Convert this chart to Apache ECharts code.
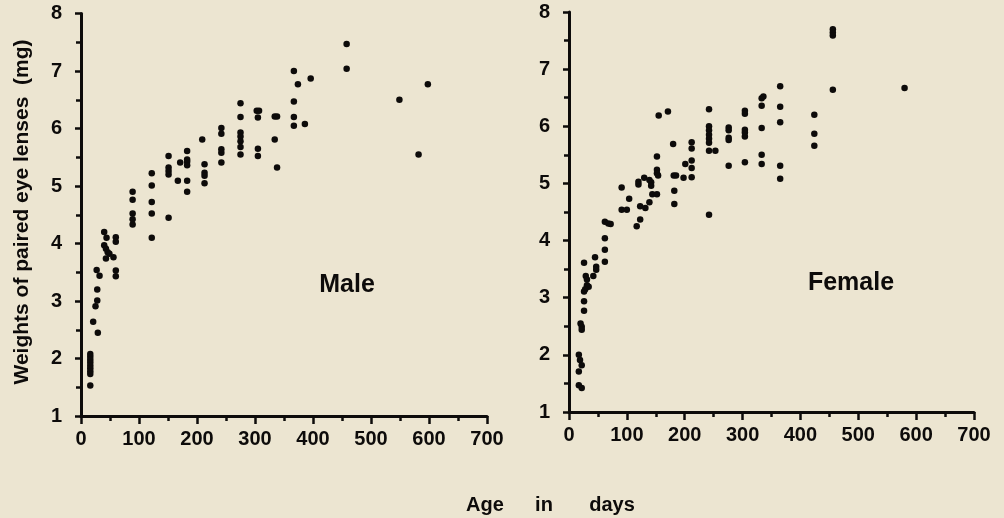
<!DOCTYPE html>
<html lang="en">
<head>
  <meta charset="UTF-8">
  <title>Eye lens weights</title>
  <script src="https://cdn.jsdelivr.net/npm/echarts@6/dist/echarts.min.js"></script>
  <style>
    html, body { margin: 0; padding: 0; background: #ece5d1; }
    #chart { width: 1004px; height: 518px; }
  </style>
</head>
<body>
  <div id="chart"></div>
  <script>
    // values: age (days) and weight (mg)
    var maleAge = [16,16,16,16,16,16,16,16,16,
      21,29,25,28,28,27,32,
      40,44,40,43,46,49,43,
      60,60,60,60,56,
      89,89,89,89,89,
      122,122,122,122,122,
      151,151,151,151,151,
      167,171,
      183,183,183,183,183,183,
      209,213,213,213,213,
      242,242,242,242,242,
      275,275,275,275,275,275,275,
      303,307,305,305,305,
      334,338,334,338,
      367,367,367,367,
      374,386,396,
      458,458,
      549,582,598];
    var maleWeight = [2.08,2.03,1.98,1.93,1.88,1.83,1.78,1.73,1.53,
      2.64,2.45,2.91,3.01,3.20,3.54,3.44,
      4.20,4.10,3.97,3.91,3.85,3.82,3.74,
      4.11,4.03,3.53,3.43,3.76,
      4.90,4.76,4.52,4.42,4.33,
      5.22,5.01,4.72,4.52,4.10,
      5.52,5.32,5.26,5.20,4.45,
      5.09,5.41,
      5.61,5.46,5.42,5.36,5.09,4.90,
      5.81,5.38,5.23,5.18,5.05,
      6.01,5.91,5.64,5.58,5.41,
      6.44,6.20,5.93,5.86,5.78,5.68,5.55,
      6.31,6.31,6.19,5.65,5.52,
      6.21,6.21,5.81,5.32,
      7.00,6.47,6.20,6.05,
      6.77,6.08,6.87,
      7.47,7.04,
      6.50,5.55,6.77];

    var femaleAge = [17,17,17,19,22,22,20,22,22,
      26,26,26,26,29,31,31,34,28,
      42,45,47,47,
      62,62,62,62,68,72,
      91,91,100,104,
      117,120,120,123,123,
      130,132,139,139,142,142,144,
      152,152,152,152,154,155,171,
      180,182,182,181,185,198,201,
      212,212,212,212,212,
      242,242,242,242,242,242,242,242,253,
      276,276,276,276,276,
      304,304,304,304,304,304,
      333,333,333,333,333,336,
      365,365,365,365,365,
      424,424,424,
      456,456,456,456,
      580];
    var femaleWeight = [2.00,1.71,1.47,1.91,1.82,1.42,2.55,2.49,2.44,
      3.61,3.11,2.94,2.77,3.38,3.32,3.22,3.19,3.15,
      3.38,3.71,3.54,3.49,
      4.33,4.04,3.84,3.63,4.30,4.29,
      4.93,4.54,4.54,4.73,
      4.25,5.03,4.98,4.60,4.37,
      5.10,4.57,5.06,4.67,5.02,4.96,4.81,
      4.81,5.47,5.24,5.18,5.14,6.19,6.26,
      5.69,4.87,4.64,5.14,5.14,5.10,5.34,
      5.72,5.61,5.40,5.27,5.11,
      6.30,6.00,5.93,5.85,5.78,5.71,5.57,4.45,5.57,
      5.98,5.93,5.80,5.76,5.31,
      6.27,6.22,5.94,5.89,5.82,5.37,
      6.49,6.36,5.97,5.50,5.34,6.52,
      6.70,6.34,6.07,5.31,5.08,
      6.20,5.87,5.66,
      7.70,7.64,7.59,6.64,
      6.67];

    var xMin = 0, xMax = 700, xStep = 100;
    var yMin = 1, yMax = 8, yStep = 1;
    var panelNames = ['Male', 'Female'];
    var xTitleWords = ['Age', 'in', 'days'];
    var yTitle = 'Weights of paired eye lenses  (mg)';

    function pairs(a, b) {
      var out = [];
      for (var i = 0; i < a.length; i++) out.push([a[i], b[i]]);
      return out;
    }

    var ink = '#0d0b0a';
    var font = '"Liberation Sans", Arial, sans-serif';

    function xAxisFor(idx) {
      return {
        gridIndex: idx, type: 'value', min: xMin, max: xMax, interval: xStep,
        axisLine: { onZero: false, lineStyle: { color: ink, width: 3 } },
        axisTick: { length: 8, lineStyle: { color: ink, width: 2.5 } },
        minorTick: { show: true, splitNumber: 2, length: 5, lineStyle: { color: ink, width: 2.5 } },
        splitLine: { show: false },
        axisLabel: { color: ink, fontSize: 20, fontWeight: 'bold', fontFamily: font, margin: 13 }
      };
    }
    function yAxisFor(idx) {
      return {
        gridIndex: idx, type: 'value', min: yMin, max: yMax, interval: yStep,
        axisLine: { onZero: false, lineStyle: { color: ink, width: 3 } },
        axisTick: { length: 6, lineStyle: { color: ink, width: 2.5 } },
        minorTick: { show: true, splitNumber: 2, length: 5, lineStyle: { color: ink, width: 2.5 } },
        splitLine: { show: false },
        axisLabel: { color: ink, fontSize: 20, fontWeight: 'bold', fontFamily: font, margin: 19 }
      };
    }

    var chart = echarts.init(document.getElementById('chart'), null, { renderer: 'canvas' });

    var txt = function (x, y, s, size, rot) {
      return {
        type: 'text', x: x, y: y, rotation: rot || 0,
        style: { text: s, fill: ink, font: 'bold ' + size + 'px ' + font, textAlign: 'center', textVerticalAlign: 'middle' }
      };
    };

    chart.setOption({
      backgroundColor: '#ece5d1',
      animation: false,
      grid: [
        { left: 81, top: 13.5, width: 406, height: 402.5 },
        { left: 569, top: 12, width: 405, height: 400 }
      ],
      xAxis: [xAxisFor(0), xAxisFor(1)],
      yAxis: [yAxisFor(0), yAxisFor(1)],
      series: [
        { type: 'scatter', xAxisIndex: 0, yAxisIndex: 0, symbolSize: 6.5,
          itemStyle: { color: ink, opacity: 1 }, data: pairs(maleAge, maleWeight) },
        { type: 'scatter', xAxisIndex: 1, yAxisIndex: 1, symbolSize: 6.5,
          itemStyle: { color: ink, opacity: 1 }, data: pairs(femaleAge, femaleWeight) }
      ],
      graphic: [
        txt(347, 285, panelNames[0], 25),
        txt(851, 283, panelNames[1], 25),
        txt(22, 212, yTitle, 21, Math.PI / 2),
        txt(485, 505, xTitleWords[0], 20),
        txt(544, 505, xTitleWords[1], 20),
        txt(612, 505, xTitleWords[2], 20)
      ]
    });
  </script>
</body>
</html>
